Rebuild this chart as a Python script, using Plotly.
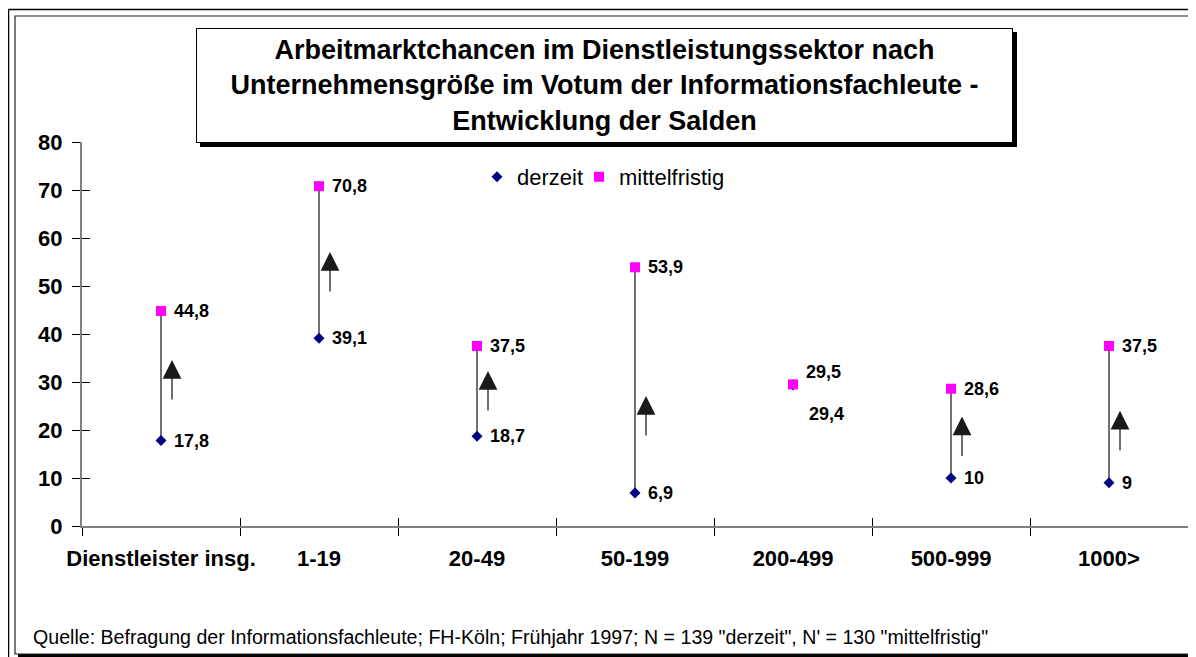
import plotly.graph_objects as go

# ---------------- data ----------------
CATEGORIES = ["Dienstleister insg.", "1-19", "20-49", "50-199", "200-499", "500-999", "1000>"]
DERZEIT = [17.8, 39.1, 18.7, 6.9, 29.4, 10, 9]
MITTELFRISTIG = [44.8, 70.8, 37.5, 53.9, 29.5, 28.6, 37.5]
ARROW_TIP = [34.6, 57.1, 32.3, 27.1, None, 22.8, 24.0]   # level of the arrow tip (None = no arrow)
Y_TICKS = [0, 10, 20, 30, 40, 50, 60, 70, 80]

TITLE = ("Arbeitmarktchancen im Dienstleistungssektor nach<br>"
         "Unternehmensgröße im Votum der Informationsfachleute -<br>"
         "Entwicklung der Salden")
SOURCE = ('Quelle: Befragung der Informationsfachleute; FH-Köln; Frühjahr 1997; '
          'N = 139 "derzeit", N\' = 130 "mittelfristig"')

# ---------------- layout constants ----------------
OFF = 8                       # page body margin
W, H = 1196 - OFF, 657 - OFF  # figure fills the window from the body margin on
# plot area in page pixels: x 82..1188, y 142..526
PL, PR, PT, PB = 82, 1188, 142, 526
ML, MR, MT, MB = PL - OFF, (W + OFF) - PR, PT - OFF, (H + OFF) - PB
PW, PH = PR - PL, PB - PT
FONT = "Liberation Sans, Arial, sans-serif"


def px2x(px):
    """page x pixel -> paper coordinate"""
    return (px - PL) / PW


def px2y(py):
    """page y pixel -> paper coordinate"""
    return (PB - py) / PH


def fmt(v):
    return f"{v:g}".replace(".", ",")


fig = go.Figure()

# high-low connector lines
lx, ly = [], []
for c, d, m in zip(CATEGORIES, DERZEIT, MITTELFRISTIG):
    lx += [c, c, None]
    ly += [d, m, None]
fig.add_trace(go.Scatter(x=lx, y=ly, mode="lines", line=dict(color="#111111", width=1.2),
                         showlegend=False, hoverinfo="skip"))

fig.add_trace(go.Scatter(x=CATEGORIES, y=DERZEIT, mode="markers", name="derzeit", legend="legend",
                         marker=dict(symbol="diamond", size=8.5, color="#000080")))
fig.add_trace(go.Scatter(x=CATEGORIES, y=MITTELFRISTIG, mode="markers", name="mittelfristig",
                         legend="legend2",
                         marker=dict(symbol="square", size=10, color="#FF00FF")))

# invisible trace to activate the overlay axes (inner half of crossing ticks)
fig.add_trace(go.Scatter(x=CATEGORIES, y=DERZEIT, xaxis="x2", yaxis="y2", mode="markers",
                         marker=dict(opacity=0), showlegend=False, hoverinfo="skip"))

annotations = []
label_font = dict(family=FONT, size=18, color="black", weight="bold")
special = {"200-499": {"derzeit": (14, -29), "mittelfristig": (11, 12)}}
for c, d, m in zip(CATEGORIES, DERZEIT, MITTELFRISTIG):
    for series, v in (("derzeit", d), ("mittelfristig", m)):
        xs, ys = special.get(c, {}).get(series, (11, 0))
        annotations.append(dict(x=c, y=v, xref="x", yref="y", text=fmt(v), showarrow=False,
                                xanchor="left", yanchor="middle", xshift=xs, yshift=ys,
                                font=label_font))

# upward arrows
for c, tip in zip(CATEGORIES, ARROW_TIP):
    if tip is None:
        continue
    annotations.append(dict(x=c, y=tip, xref="x", yref="y", text="", showarrow=True,
                            ax=0, ay=41, xshift=11, arrowhead=2, arrowsize=3,
                            arrowwidth=1.25, arrowcolor="#1a1a1a"))

# title box
annotations.append(dict(x=px2x((196 + 1013) / 2), y=px2y((28 + 143) / 2), xref="paper", yref="paper",
                        xanchor="center", yanchor="middle", text=TITLE, showarrow=False,
                        width=813, height=111, bgcolor="white", bordercolor="black", borderwidth=1,
                        borderpad=1,
                        font=dict(family=FONT, size=27, color="black", weight="bold")))
# source note
annotations.append(dict(x=px2x(31), y=px2y(637), xref="paper", yref="paper", xanchor="left",
                        yanchor="middle", text=SOURCE, showarrow=False,
                        font=dict(family=FONT, size=19.6, color="black")))

shapes = [
    # inner frame shadow
    dict(type="rect", xref="paper", yref="paper", x0=px2x(18), x1=px2x(1200), y0=px2y(660), y1=px2y(19),
         line=dict(width=0), fillcolor="black", layer="below"),
    # inner frame
    dict(type="rect", xref="paper", yref="paper", x0=px2x(15), x1=px2x(1193), y0=px2y(654), y1=px2y(16),
         line=dict(color="#222222", width=1.2), fillcolor="white", layer="below"),
    # outer frame lines
    dict(type="line", xref="paper", yref="paper", x0=px2x(8.5), x1=px2x(1200), y0=px2y(9.5), y1=px2y(9.5),
         line=dict(color="black", width=1.5)),
    dict(type="line", xref="paper", yref="paper", x0=px2x(8.5), x1=px2x(8.5), y0=px2y(9.5), y1=px2y(660),
         line=dict(color="black", width=1.5)),
    # title shadow
    dict(type="rect", xref="paper", yref="paper", x0=px2x(200), x1=px2x(1017), y0=px2y(147), y1=px2y(32),
         line=dict(width=0), fillcolor="black", layer="above"),
]

axis_common = dict(showgrid=False, zeroline=False)
legend_common = dict(orientation="h", xanchor="left", yanchor="middle", y=px2y(177),
                     bgcolor="rgba(0,0,0,0)", font=dict(family=FONT, size=22, color="black"),
                     itemwidth=30, itemclick=False, itemdoubleclick=False)
fig.update_layout(
    width=W, height=H,
    margin=dict(l=ML, r=MR, t=MT, b=MB),
    paper_bgcolor="white", plot_bgcolor="rgba(0,0,0,0)",
    font=dict(family=FONT, color="black"),
    xaxis=dict(type="category", categoryorder="array", categoryarray=CATEGORIES,
               range=[-0.5, len(CATEGORIES) - 0.5], tickson="boundaries",
               ticks="outside", ticklen=8, tickcolor="black", tickwidth=1, tickangle=0,
               showline=True, linecolor="#808080", linewidth=2,
               ticklabelstandoff=12,
               tickfont=dict(family=FONT, size=22, color="black", weight="bold"), **axis_common),
    xaxis2=dict(type="category", categoryorder="array", categoryarray=CATEGORIES,
                range=[-0.5, len(CATEGORIES) - 0.5], tickson="boundaries", overlaying="x",
                anchor="y", side="bottom", ticks="inside", ticklen=8, tickcolor="black",
                tickwidth=1, showticklabels=False, showline=False, **axis_common),
    yaxis=dict(range=[0, 80], tickvals=Y_TICKS, ticks="outside", ticklen=8, tickcolor="black",
               tickwidth=1, showline=True, linecolor="#808080", linewidth=2,
               ticklabelstandoff=5,
               tickfont=dict(family=FONT, size=22, color="black", weight="bold"), **axis_common),
    yaxis2=dict(range=[0, 80], tickvals=Y_TICKS, overlaying="y", anchor="x", side="left",
                ticks="inside", ticklen=8, tickcolor="black", tickwidth=1,
                showticklabels=False, showline=False, **axis_common),
    legend=dict(x=px2x(477), **legend_common),
    legend2=dict(x=px2x(579), **legend_common),
    annotations=annotations,
    shapes=shapes,
    showlegend=True,
)

fig.write_html("out.html")
